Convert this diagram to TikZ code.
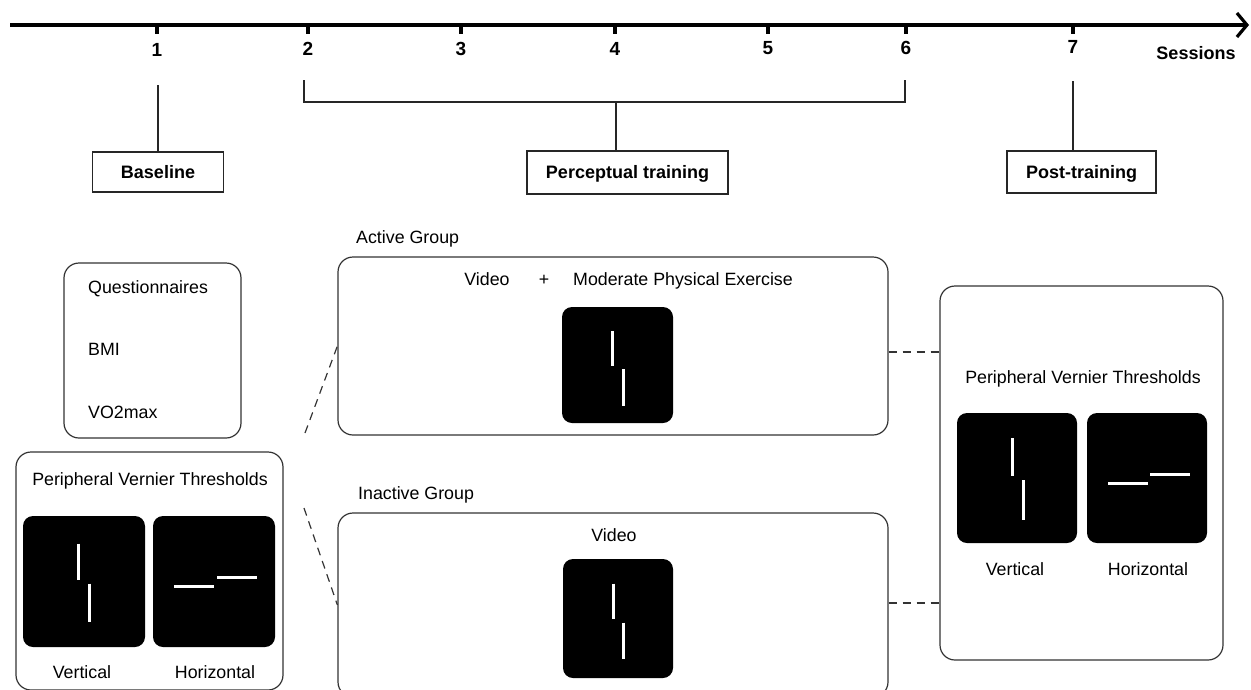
\documentclass[tikz,border=0pt]{standalone}
\usepackage{fontspec}
\setmainfont{Liberation Sans}
\usetikzlibrary{arrows.meta}

\begin{document}
\begin{tikzpicture}[
        x=1pt, y=-1pt,
        font=\fontsize{17.8}{21}\selectfont,
        txt/.style={inner sep=0pt, text height=12.8pt, text depth=0pt},
        bold/.style={inner sep=0pt, text height=13.6pt, text depth=0pt, font=\fontsize{19}{22}\selectfont\bfseries},
        phasebox/.style={draw=black!85, line width=1.3pt, inner sep=0pt, text height=12.8pt, text depth=0pt, font=\fontsize{18}{21}\selectfont\bfseries},
        panel/.style={draw=black!80, line width=1.2pt, rounded corners=15pt, inner sep=0pt},
        screen/.style={fill=black, rounded corners=10pt, inner sep=0pt},
        bar/.style={white, line width=3pt},
        link/.style={draw=black!80, line width=1.2pt, dash pattern=on 8pt off 6pt},
        stem/.style={draw=black!85, line width=1.2pt},
        timeline/.style={line width=3.2pt}
    ]
    \useasboundingbox (0,0) rectangle (1251,689);

    % ==========================================
    % TIMELINE: sessions 1 to 7
    % ==========================================
    \draw[timeline, -{Straight Barb[length=10pt, width=24pt]}] (10,25) -- (1249,25);
    \draw[timeline] (157,25) -- (157,34);
    \draw[timeline] (308,25) -- (308,34);
    \draw[timeline] (461,25) -- (461,34);
    \draw[timeline] (615,25) -- (615,34);
    \draw[timeline] (768,25) -- (768,34);
    \draw[timeline] (906,25) -- (906,34);
    \draw[timeline] (1073,25) -- (1073,34);

    \node[bold] (s1) at (157,50) {1};
    \node[bold] (s2) at (308,49) {2};
    \node[bold] (s3) at (461,49) {3};
    \node[bold] (s4) at (615,49) {4};
    \node[bold] (s5) at (768,48) {5};
    \node[bold] (s6) at (906,48) {6};
    \node[bold] (s7) at (1073,47) {7};
    \node[txt, font=\fontsize{18}{21}\selectfont\bfseries] (sessions) at (1196,53) {Sessions};

    % ==========================================
    % PHASES: baseline, training, post-training
    % ==========================================
    \node[phasebox, minimum width=131pt, minimum height=40pt] (baseline) at (158,172) {Baseline};
    \node[phasebox, minimum width=201pt, minimum height=43pt] (training) at (627.5,172.5) {Perceptual training};
    \node[phasebox, minimum width=149pt, minimum height=42pt] (post) at (1081.5,172) {Post-training};

    \coordinate (p1) at (158,85);
    \coordinate (brkL) at (304,80);
    \coordinate (brkR) at (905,80);
    \coordinate (brkM) at (616,102);
    \coordinate (p7) at (1073,81);

    \draw[stem] (p1) -- (baseline.north);
    \draw[stem] (brkL) -- ++(0,22) -| (brkR); % sessions 2-6
    \draw[stem] (brkM) -- (brkM |- training.north);
    \draw[stem] (p7) -- (p7 |- post.north);

    % ==========================================
    % BASELINE MEASURES
    % ==========================================
    \node[panel, minimum width=177pt, minimum height=175pt] (measures) at (152.5,350.5) {};
    \node[txt, anchor=west] (quest) at (88,287) {Questionnaires};
    \node[txt, anchor=west] (bmi) at (88,349) {BMI};
    \node[txt, anchor=west] (vo2) at (88,412) {VO2max};

    \node[panel, minimum width=267pt, minimum height=238pt] (pvtL) at (149.5,571) {};
    \node[txt] (pvtLtitle) at (150,479) {Peripheral Vernier Thresholds};
    \node[screen, minimum width=122pt, minimum height=131pt] (scrLv) at (84,581.5) {};
    \node[screen, minimum width=122pt, minimum height=131pt] (scrLh) at (214,581.5) {};
    \node[txt] (vertL) at (82,672) {Vertical};
    \node[txt] (horL) at (215,672) {Horizontal};

    \begin{scope}[shift={(scrLv.center)}]
        \draw[bar] (-5.5,-38) -- (-5.5,-2);
        \draw[bar] (5.5,2) -- (5.5,40);
    \end{scope}
    \begin{scope}[shift={(scrLh.center)}]
        \draw[bar] (-40,4.5) -- (0,4.5);
        \draw[bar] (3,-4.5) -- (43,-4.5);
    \end{scope}

    % ==========================================
    % TRAINING GROUPS
    % ==========================================
    \node[txt, anchor=west] (activeLbl) at (356,237) {Active Group};
    \node[panel, minimum width=550pt, minimum height=178pt] (active) at (613,346) {};
    \node[txt] (vidA) at (487,279) {Video};
    \node[txt] (plus) at (544,279) {+};
    \node[txt, anchor=west] (exercise) at (573,279) {Moderate Physical Exercise};
    \node[screen, minimum width=111pt, minimum height=116pt] (scrA) at (617.5,365) {};
    \begin{scope}[shift={(scrA.center)}]
        \draw[bar] (-5.5,-34) -- (-5.5,1);
        \draw[bar] (5.5,4) -- (5.5,41);
    \end{scope}

    \node[txt, anchor=west] (inactiveLbl) at (358,493) {Inactive Group};
    \node[panel, minimum width=550pt, minimum height=184pt] (inactive) at (613,605) {};
    \node[txt] (vidI) at (614,535) {Video};
    \node[screen, minimum width=110pt, minimum height=119pt] (scrI) at (618,618.5) {};
    \begin{scope}[shift={(scrI.center)}]
        \draw[bar] (-5,-35) -- (-5,0);
        \draw[bar] (5,4) -- (5,40);
    \end{scope}

    % ==========================================
    % POST-TRAINING THRESHOLDS
    % ==========================================
    \node[panel, minimum width=283pt, minimum height=374pt] (pvtR) at (1081.5,473) {};
    \node[txt] (pvtRtitle) at (1083,377) {Peripheral Vernier Thresholds};
    \node[screen, minimum width=120pt, minimum height=130pt] (scrRv) at (1017,478) {};
    \node[screen, minimum width=120pt, minimum height=130pt] (scrRh) at (1147,478) {};
    \node[txt] (vertR) at (1015,569) {Vertical};
    \node[txt] (horR) at (1148,569) {Horizontal};

    \begin{scope}[shift={(scrRv.center)}]
        \draw[bar] (-5,-40) -- (-5,-2);
        \draw[bar] (6,2) -- (6,42);
    \end{scope}
    \begin{scope}[shift={(scrRh.center)}]
        \draw[bar] (-39,5) -- (1,5);
        \draw[bar] (3,-4) -- (43,-4);
    \end{scope}

    % ==========================================
    % DASHED LINKS
    % ==========================================
    \coordinate (fromA) at (305,433);
    \coordinate (fromI) at (304,508);
    \draw[link] (fromA) -- (active.west);
    \draw[link] (fromI) -- (inactive.west);
    \draw[link] ([yshift=-6pt]active.east) -- ([yshift=-6pt]active.east -| pvtR.west);
    \draw[link] ([yshift=2pt]inactive.east) -- ([yshift=2pt]inactive.east -| pvtR.west);

\end{tikzpicture}
\end{document}
